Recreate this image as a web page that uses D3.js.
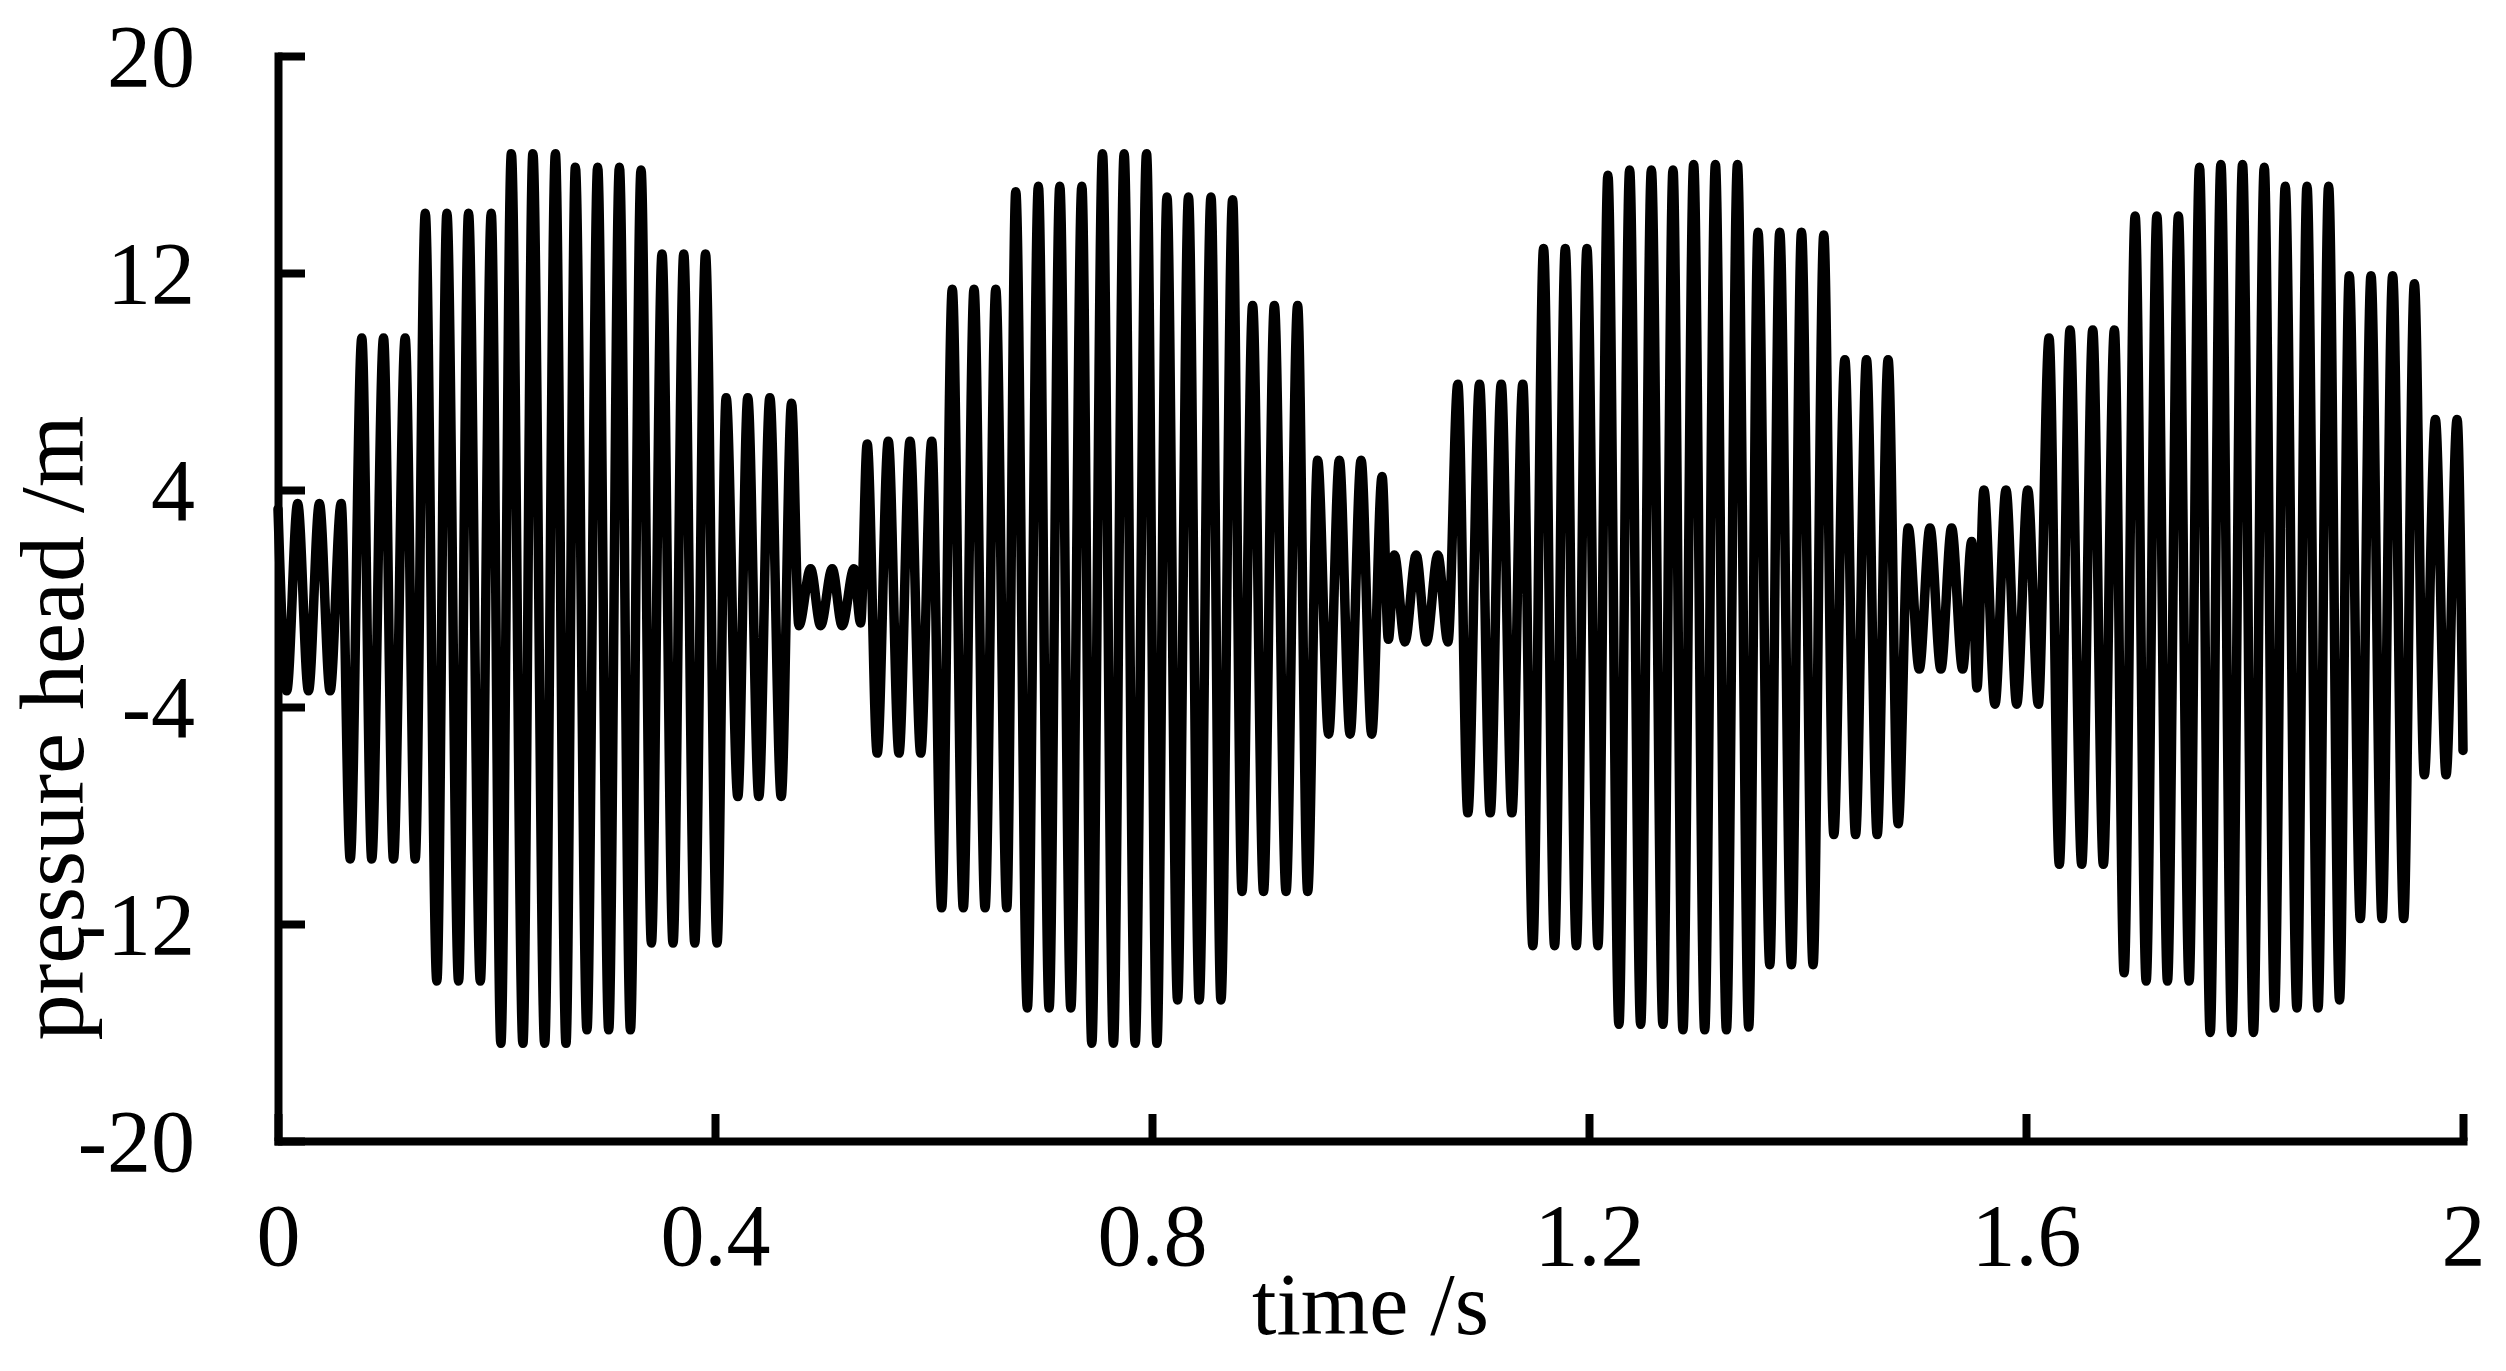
<!DOCTYPE html>
<html><head><meta charset="utf-8">
<script src="https://cdnjs.cloudflare.com/ajax/libs/d3/7.8.5/d3.min.js"></script>
<style>html,body{margin:0;padding:0;background:#fff;overflow:hidden}</style>
</head><body><svg id="chart" width="2506" height="1371"></svg>
<script>
// extrema of the pressure-head trace (time in s, head in m)
const extremaTime = [
0.0000,0.0080,0.0180,0.0279,0.0379,0.0477,0.0578,0.0661,0.0767,0.0858,0.0966,0.1057,0.1164,0.1256,
0.1348,0.1454,0.1546,0.1653,0.1744,0.1852,0.1952,0.2040,0.2136,0.2242,0.2333,0.2441,0.2539,0.2636,
0.2722,0.2828,0.2926,0.3027,0.3125,0.3226,0.3323,0.3418,0.3515,0.3616,0.3714,0.3815,0.3913,0.4019,
0.4102,0.4209,0.4300,0.4401,0.4502,0.4606,0.4701,0.4768,0.4875,0.4967,0.5073,0.5164,0.5272,0.5333,
0.5393,0.5485,0.5586,0.5684,0.5785,0.5883,0.5984,0.6075,0.6172,0.6273,0.6371,0.6472,0.6570,0.6671,
0.6753,0.6859,0.6960,0.7058,0.7156,0.7257,0.7358,0.7449,0.7547,0.7647,0.7745,0.7846,0.7950,0.8045,
0.8137,0.8234,0.8334,0.8432,0.8540,0.8631,0.8738,0.8824,0.8921,0.9021,0.9120,0.9227,0.9333,0.9425,
0.9516,0.9617,0.9715,0.9813,0.9914,1.0011,1.0106,1.0164,1.0219,1.0315,1.0418,1.0512,1.0616,1.0709,
1.0799,1.0891,1.0998,1.1096,1.1197,1.1294,1.1394,1.1486,1.1584,1.1685,1.1783,1.1884,1.1981,1.2082,
1.2173,1.2274,1.2372,1.2473,1.2571,1.2677,1.2769,1.2860,1.2958,1.3059,1.3157,1.3258,1.3359,1.3462,
1.3547,1.3655,1.3746,1.3853,1.3945,1.4051,1.4149,1.4241,1.4342,1.4440,1.4540,1.4638,1.4738,1.4830,
1.4922,1.5023,1.5121,1.5221,1.5319,1.5420,1.5503,1.5551,1.5615,1.5716,1.5817,1.5915,1.6016,1.6113,
1.6211,1.6305,1.6403,1.6510,1.6611,1.6708,1.6809,1.6898,1.6999,1.7100,1.7198,1.7295,1.7395,1.7493,
1.7588,1.7686,1.7784,1.7884,1.7982,1.8082,1.8181,1.8275,1.8373,1.8480,1.8572,1.8673,1.8770,1.8870,
1.8959,1.9060,1.9158,1.9259,1.9356,1.9457,1.9555,1.9646,1.9747,1.9845,1.9946,2.0000
];
const extremaHead = [
3.3,-3.4,3.5,-3.4,3.5,-3.4,3.5,-9.6,9.6,-9.6,9.6,-9.6,9.6,-9.6,
14.2,-14.1,14.2,-14.1,14.2,-14.1,14.2,-16.4,16.4,-16.4,16.4,-16.4,16.4,-16.4,
15.9,-15.9,15.9,-15.9,15.9,-15.9,15.8,-12.7,12.7,-12.7,12.7,-12.7,12.7,-12.7,
7.4,-7.3,7.4,-7.3,7.4,-7.3,7.2,-1.0,1.1,-1.0,1.1,-1.0,1.1,-0.9,
5.7,-5.7,5.8,-5.7,5.8,-5.7,5.8,-11.4,11.4,-11.4,11.4,-11.4,11.4,-11.4,
15.0,-15.1,15.2,-15.1,15.2,-15.1,15.2,-16.4,16.4,-16.4,16.4,-16.4,16.4,-16.4,
14.8,-14.8,14.8,-14.8,14.8,-14.8,14.7,-10.8,10.8,-10.8,10.8,-10.8,10.8,-10.8,
5.1,-5.0,5.1,-5.0,5.1,-5.0,4.5,-1.5,1.6,-1.6,1.6,-1.6,1.6,-1.6,
7.9,-7.9,7.9,-7.9,7.9,-7.9,7.9,-12.8,12.9,-12.8,12.9,-12.8,12.9,-12.8,
15.6,-15.7,15.8,-15.7,15.8,-15.7,15.8,-15.9,16.0,-15.9,16.0,-15.9,16.0,-15.8,
13.5,-13.5,13.5,-13.5,13.5,-13.5,13.4,-8.7,8.8,-8.7,8.8,-8.7,8.8,-8.3,
2.6,-2.6,2.6,-2.6,2.6,-2.6,2.1,-3.3,4.0,-3.9,4.0,-3.9,4.0,-3.9,
9.6,-9.8,9.9,-9.8,9.9,-9.8,9.9,-13.8,14.1,-14.1,14.1,-14.1,14.1,-14.1,
15.9,-16.0,16.0,-16.0,16.0,-16.0,15.9,-15.1,15.2,-15.1,15.2,-15.1,15.2,-14.8,
11.9,-11.8,11.9,-11.8,11.9,-11.8,11.6,-6.5,6.6,-6.5,6.6,-5.6
];
const xTicks = [0, 0.4, 0.8, 1.2, 1.6, 2];
const xTickLabels = ["0", "0.4", "0.8", "1.2", "1.6", "2"];
const yTicks = [-20, -12, -4, 4, 12, 20];
const yTickLabels = ["-20", "-12", "-4", "4", "12", "20"];
const xTitle = "time /s";
const yTitle = "pressure head /m";

const svg = d3.select("#chart");
const FONT = "'Liberation Serif','Times New Roman',serif";
const x = d3.scaleLinear().domain([0, 2]).range([278, 2463]);
const y = d3.scaleLinear().domain([-20, 20]).range([1141, 56]);

const pts = extremaTime.map((t, i) => [t, extremaHead[i]]);
const line = d3.line().x(d => x(d[0])).y(d => y(d[1])).curve(d3.curveMonotoneX);
svg.append("path").datum(pts).attr("d", line)
  .attr("fill", "none").attr("stroke", "#000").attr("stroke-width", 9.5)
  .attr("stroke-linejoin", "round").attr("stroke-linecap", "round");

const yAxis = d3.axisLeft(y).tickValues(yTicks).tickSize(-27).tickSizeOuter(0)
  .tickPadding(83).tickFormat((d, i) => yTickLabels[i]);
const gy = svg.append("g").attr("transform", `translate(${x(0)},0)`).call(yAxis);
const xAxis = d3.axisBottom(x).tickValues(xTicks).tickSize(-27).tickSizeOuter(0)
  .tickPadding(62).tickFormat((d, i) => xTickLabels[i]);
const gx = svg.append("g").attr("transform", `translate(0,${y(-20)})`).call(xAxis);

[gx, gy].forEach(g => {
  g.select(".domain").attr("stroke", "#000").attr("stroke-width", 8).attr("stroke-linecap", "square");
  g.selectAll(".tick line").attr("stroke", "#000").attr("stroke-width", 8);
  g.selectAll(".tick text").attr("fill", "#000").style("font-family", FONT).style("font-size", "88px");
});
gy.selectAll(".tick text").attr("dy", "0.34em");

svg.append("text").attr("x", x(1)).attr("y", 1334).attr("text-anchor", "middle")
  .style("font-family", FONT).style("font-size", "88px").text(xTitle);
svg.append("text").attr("transform", `translate(83,728) rotate(-90)`).attr("text-anchor", "middle")
  .attr("textLength", 625).attr("lengthAdjust", "spacingAndGlyphs")
  .style("font-family", FONT).style("font-size", "90px").text(yTitle);
</script></body></html>
